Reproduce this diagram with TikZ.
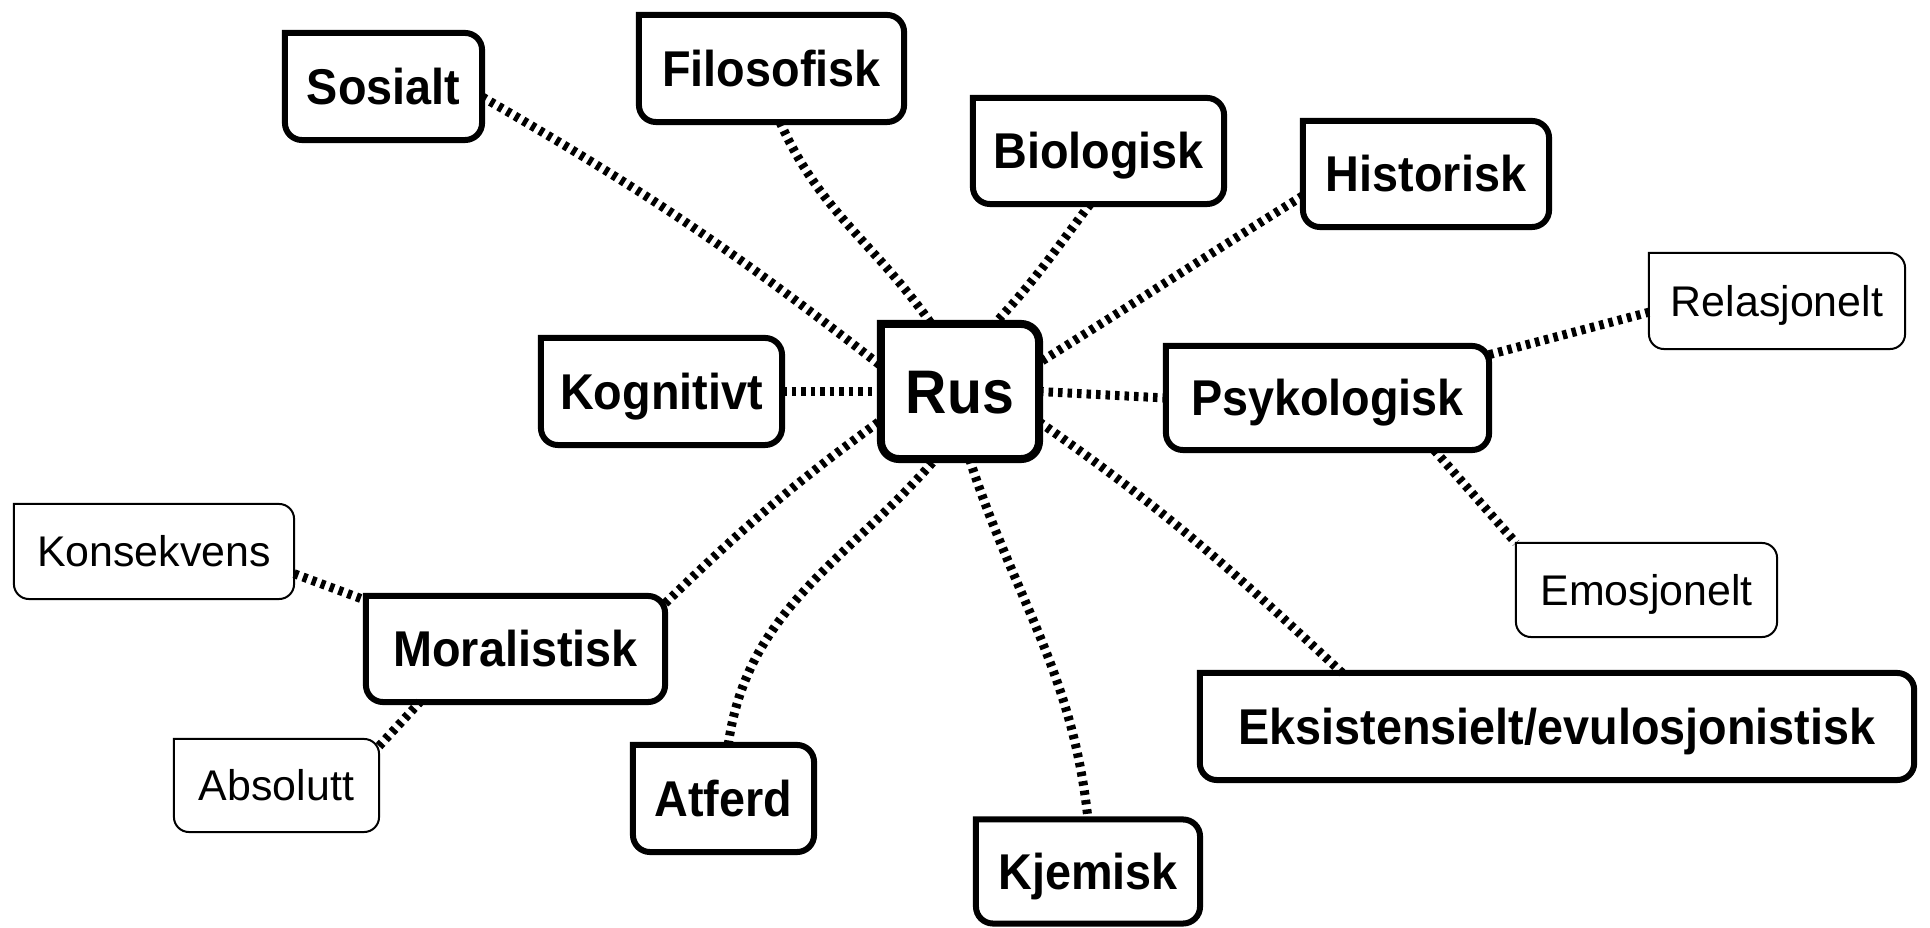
\documentclass[tikz,border=0pt]{standalone}
\usepackage{fontspec}
\setmainfont{Liberation Sans}[BoldFeatures={FakeStretch=0.93}]

% Marco con la esquina superior izquierda recta y las otras tres redondeadas
% \marco{nodo}{grosor}{radio}
\newcommand{\marco}[3]{%
  \draw[line width=#2] (#1.north west) -- ([xshift=-#3]#1.north east)
    arc[start angle=90, end angle=0, radius=#3] -- ([yshift=#3]#1.south east)
    arc[start angle=0, end angle=-90, radius=#3] -- ([xshift=#3]#1.south west)
    arc[start angle=270, end angle=180, radius=#3] -- cycle;}

\begin{document}
\begin{tikzpicture}[x=0.01cm, y=0.01cm,
  caja/.style={inner sep=0pt, outer sep=0pt, font=\bfseries\fontsize{14.3}{17}\selectfont, text height=10.2pt, text depth=0pt},
  fina/.style={inner sep=0pt, outer sep=0pt, font=\fontsize{12.2}{15}\selectfont, text height=8.7pt, text depth=0pt},
  enlace/.style={line width=0.09cm, dash pattern=on 0.045cm off 0.05cm}]

 % Marco de la figura (misma proporción que el original)
 \useasboundingbox (0,0) rectangle (1930,-928);

 % --- NODO CENTRAL ---
 \node[inner sep=0pt, outer sep=0pt, font=\bfseries\fontsize{17.5}{21}\selectfont, text height=12.5pt, text depth=0pt,
       minimum width=1.58cm, minimum height=1.35cm] (rus) at (960,-391.5) {Rus};

 % --- PERSPECTIVAS (negrita) ---
 \node[caja, minimum width=1.97cm, minimum height=1.07cm] (sos) at (383.5,-86.5) {Sosialt};
 \node[caja, minimum width=2.65cm, minimum height=1.07cm] (fil) at (771.5,-68.5) {Filosofisk};
 \node[caja, minimum width=2.51cm, minimum height=1.06cm] (bio) at (1098.5,-151) {Biologisk};
 \node[caja, minimum width=2.46cm, minimum height=1.06cm] (his) at (1426,-174) {Historisk};
 \node[caja, minimum width=2.41cm, minimum height=1.07cm] (kog) at (661.5,-391.5) {Kognitivt};
 \node[caja, minimum width=3.23cm, minimum height=1.04cm] (psy) at (1327.5,-398) {Psykologisk};
 \node[caja, minimum width=2.99cm, minimum height=1.06cm] (mor) at (515.5,-649) {Moralistisk};
 \node[caja, minimum width=1.81cm, minimum height=1.07cm] (atf) at (723.5,-798.5) {Atferd};
 \node[caja, minimum width=2.24cm, minimum height=1.04cm] (kje) at (1088,-871.5) {Kjemisk};
 \node[caja, minimum width=7.14cm, minimum height=1.07cm] (eks) at (1557,-726.5) {Eksistensielt/evulosjonistisk};

 % --- SUBCATEGORÍAS (texto normal, marco fino) ---
 \node[fina, minimum width=2.56cm, minimum height=0.96cm] (rel) at (1777,-301) {Relasjonelt};
 \node[fina, minimum width=2.61cm, minimum height=0.94cm] (emo) at (1646.5,-590) {Emosjonelt};
 \node[fina, minimum width=2.80cm, minimum height=0.95cm] (kon) at (154,-551.5) {Konsekvens};
 \node[fina, minimum width=2.05cm, minimum height=0.93cm] (abs) at (276.5,-785.5) {Absolutt};

 % --- ENLACES PUNTEADOS ---
 % desde el centro hacia cada perspectiva
 \draw[enlace] (sos.-6) to[out=-30, in=142] (rus.162);
 \draw[enlace] (fil.-81) to[out=-66, in=125] (rus.113);
 \draw[enlace] (bio.-99) to[out=-127, in=47] (rus.63);
 \draw[enlace] (his.190) to[out=-148, in=32] (rus.20);
 \draw[enlace] (kog.east) -- (rus.west);
 \draw[enlace] (rus.east) -- (psy.west);
 \draw[enlace] (mor.17) to[out=44, in=-144] (rus.200);
 \draw[enlace] (atf.85) to[out=82, in=-131] (rus.250);
 \draw[enlace] (rus.-82) to[out=-72, in=96] (kje.north);
 \draw[enlace] (rus.-21) to[out=-35, in=137] (eks.166);

 % ramas secundarias
 \draw[enlace] (psy.15) -- (rel.185);
 \draw[enlace] (psy.-26) -- (emo.north west);
 \draw[enlace] (kon.-9) -- (mor.162);
 \draw[enlace] (abs.21) -- (mor.209);

 % --- MARCOS (encima de los enlaces) ---
 \foreach \n in {sos,fil,bio,his,kog,psy,mor,atf,kje,eks} {\marco{\n}{0.06cm}{0.17cm}}
 \foreach \n in {rel,emo,kon,abs} {\marco{\n}{0.02cm}{0.15cm}}
 \marco{rus}{0.08cm}{0.18cm}

\end{tikzpicture}
\end{document}
